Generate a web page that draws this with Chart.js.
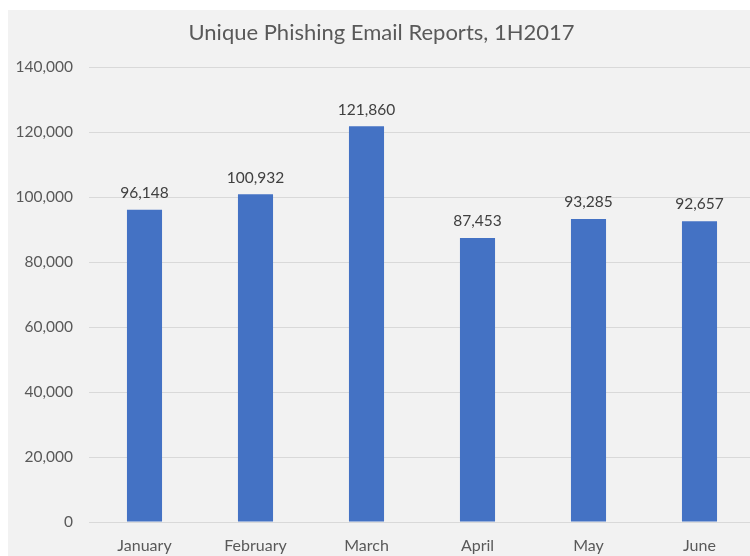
<!DOCTYPE html>
<html>
<head>
<meta charset="utf-8">
<title>Unique Phishing Email Reports, 1H2017</title>
<script src="https://cdn.jsdelivr.net/npm/chart.js@4/dist/chart.umd.min.js"></script>
<style>
  html, body { margin: 0; padding: 0; background: #ffffff; overflow: hidden; }
  #wrap {
    position: absolute;
    left: 8px;
    top: 10px;
    width: 747px;
    height: 546px;
    background: #f2f2f2;
  }
</style>
</head>
<body>
<div id="wrap"><canvas id="chart"></canvas></div>
<script>
const months = ["January", "February", "March", "April", "May", "June"];
const reports = [96148, 100932, 121860, 87453, 93285, 92657];
const yTicks = [0, 20000, 40000, 60000, 80000, 100000, 120000, 140000];

const fmt = v => v.toLocaleString("en-US");

// value labels above each bar
const barValues = {
  id: "barValues",
  afterDatasetsDraw(chart) {
    const ctx = chart.ctx;
    const meta = chart.getDatasetMeta(0);
    ctx.save();
    ctx.font = "15.5px Lato";
    ctx.fillStyle = "#404040";
    ctx.textAlign = "center";
    ctx.textBaseline = "bottom";
    meta.data.forEach((bar, i) => {
      ctx.fillText(fmt(reports[i]), bar.x, bar.y - 9);
    });
    ctx.restore();
  }
};

const ctx = document.getElementById("chart").getContext("2d");
new Chart(ctx, {
  type: "bar",
  data: {
    labels: months,
    datasets: [
      {
        label: "Reports",
        data: reports,
        backgroundColor: "#4472C4",
        borderWidth: 0,
        barPercentage: 0.316,
        categoryPercentage: 1.0,
      },
    ],
  },
  options: {
    responsive: true,
    maintainAspectRatio: false,
    animation: false,
    layout: { padding: { left: 0, right: 0, top: 0, bottom: 0 } },
    scales: {
      x: {
        grid: { display: false },
        border: { display: false },
        ticks: {
          color: "#595959",
          font: { family: "Lato", size: 16 },
          padding: 6,
        },
        afterFit: scale => { scale.height = 34; },
      },
      y: {
        min: 0,
        max: 140000,
        afterBuildTicks: scale => {
          scale.ticks = yTicks.map(v => ({ value: v }));
        },
        grid: { color: "#d9d9d9", drawTicks: false },
        border: { display: false },
        ticks: {
          color: "#595959",
          font: { family: "Lato", size: 15.5 },
          padding: 16,
          callback: v => fmt(v),
        },
        afterFit: scale => { scale.width = 81; },
      },
    },
    plugins: {
      legend: { display: false },
      tooltip: { enabled: false },
      title: {
        display: true,
        text: "Unique Phishing Email Reports, 1H2017",
        color: "#595959",
        font: { family: "Lato", size: 22, weight: "normal" },
        padding: { top: 10, bottom: 21 },
      },
    },
  },
  plugins: [barValues],
});
</script>
</body>
</html>
